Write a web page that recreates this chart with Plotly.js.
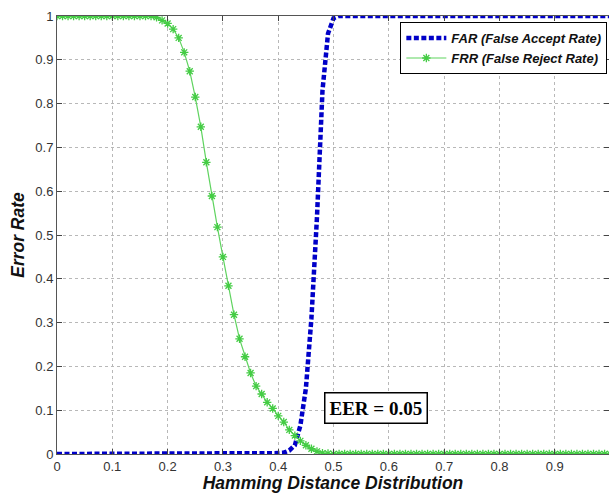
<!DOCTYPE html>
<html>
<head>
<meta charset="utf-8">
<script src="https://cdn.plot.ly/plotly-3.0.1.min.js"></script>
<style>html,body{margin:0;padding:0;background:#fff;}#chart{width:609px;height:493px;}</style>
</head>
<body>
<div id="chart"></div>
<script>
// Hamming distance thresholds (0 to 1, step 0.01)
const hd = [0,0.01,0.02,0.03,0.04,0.05,0.06,0.07,0.08,0.09,0.1,0.11,0.12,0.13,0.14,0.15,0.16,0.17,0.18,0.19,0.2,0.21,0.22,0.23,0.24,0.25,0.26,0.27,0.28,0.29,0.3,0.31,0.32,0.33,0.34,0.35,0.36,0.37,0.38,0.39,0.4,0.41,0.42,0.43,0.44,0.45,0.46,0.47,0.48,0.49,0.5,0.51,0.52,0.53,0.54,0.55,0.56,0.57,0.58,0.59,0.6,0.61,0.62,0.63,0.64,0.65,0.66,0.67,0.68,0.69,0.7,0.71,0.72,0.73,0.74,0.75,0.76,0.77,0.78,0.79,0.8,0.81,0.82,0.83,0.84,0.85,0.86,0.87,0.88,0.89,0.9,0.91,0.92,0.93,0.94,0.95,0.96,0.97,0.98,0.99,1.0];

// False Accept Rate
const far = [0,0,0,0,0,0,0,0,0,0,
             0,0,0,0,0,0,0,0,0,0,
             0,0,0,0,0,0,0,0,0,0,
             0,0,0,0,0,0.002,0.002,0.002,0.002,0.002,
             0.002,0.003,0.008,0.02,0.065,0.15,0.31,0.54,0.83,0.96,
             0.995,1,1,1,1,1,1,1,1,1,
             1,1,1,1,1,1,1,1,1,1,
             1,1,1,1,1,1,1,1,1,1,
             1,1,1,1,1,1,1,1,1,1,
             1,1,1,1,1,1,1,1,1,1,
             1];

// False Reject Rate
const frr = [1,1,1,1,1,1,1,1,1,1,
             1,1,1,1,1,1,1,1,0.997,0.99,
             0.983,0.97,0.95,0.917,0.874,0.815,0.747,0.666,0.589,0.518,
             0.45,0.384,0.318,0.263,0.222,0.185,0.155,0.137,0.118,0.104,
             0.087,0.073,0.055,0.042,0.03,0.02,0.012,0.006,0.002,0.001,
             0,0,0,0,0,0,0,0,0,0,
             0,0,0,0,0,0,0,0,0,0,
             0,0,0,0,0,0,0,0,0,0,
             0,0,0,0,0,0,0,0,0,0,
             0,0,0,0,0,0,0,0,0,0,
             0];

const seriesNames = ["FAR (False Accept Rate)", "FRR (False Reject Rate)"];
const eerText = "EER = 0.05";
const eerPos = [0.577, 0.106];
const xTicks = [0,0.1,0.2,0.3,0.4,0.5,0.6,0.7,0.8,0.9];
const xTickText = ["0","0.1","0.2","0.3","0.4","0.5","0.6","0.7","0.8","0.9"];
const yTicks = [0,0.1,0.2,0.3,0.4,0.5,0.6,0.7,0.8,0.9,1];
const yTickText = ["0","0.1","0.2","0.3","0.4","0.5","0.6","0.7","0.8","0.9","1"];

const traces = [
  {
    x: hd, y: far, name: seriesNames[0], type: "scatter", mode: "lines",
    line: {color: "#0000c8", width: 4.5, dash: "5px,2.5px"}
  },
  {
    x: hd, y: frr, name: seriesNames[1], type: "scatter", mode: "lines+markers",
    line: {color: "#5fd35f", width: 1.2},
    marker: {symbol: "asterisk-open", size: 7, color: "#44cc44", line: {color: "#44cc44", width: 1.3}}
  }
];

const gridStyle = {showgrid: true, gridcolor: "#b8b8b8", griddash: "dot", gridwidth: 1};

const layout = {
  width: 609, height: 493,
  margin: {l: 57, r: 0, t: 16, b: 39},
  paper_bgcolor: "#ffffff",
  plot_bgcolor: "#ffffff",
  font: {family: "Liberation Sans, Arial, sans-serif", color: "#333"},
  showlegend: true,
  legend: {
    x: 0.997, y: 0.986, xanchor: "right", yanchor: "top",
    bgcolor: "#ffffff", bordercolor: "#000000", borderwidth: 1,
    font: {family: "Liberation Sans, Arial, sans-serif", size: 13, color: "#111", style: "italic", weight: "bold"},
    tracegroupgap: 0, itemwidth: 40
  },
  xaxis: Object.assign({
    range: [0, 0.998], tickvals: xTicks, ticktext: xTickText,
    ticks: "inside", ticklen: 5, tickcolor: "#444",
    showline: true, linecolor: "#555", linewidth: 1, mirror: "ticks",
    zeroline: false,
    tickfont: {size: 13, color: "#333"},
    title: {text: "Hamming Distance Distribution", standoff: 2,
            font: {size: 17.5, color: "#111", style: "italic", weight: "bold"}}
  }, gridStyle),
  yaxis: Object.assign({
    range: [0, 1], tickvals: yTicks, ticktext: yTickText,
    ticks: "inside", ticklen: 5, tickcolor: "#444",
    showline: true, linecolor: "#555", linewidth: 1, mirror: "ticks",
    zeroline: false,
    tickfont: {size: 13, color: "#333"},
    title: {text: "Error Rate", standoff: 6,
            font: {size: 17.5, color: "#111", style: "italic", weight: "bold"}}
  }, gridStyle),
  annotations: [{
    x: eerPos[0], y: eerPos[1], xref: "x", yref: "y",
    text: eerText, showarrow: false,
    font: {family: "Liberation Serif, Times New Roman, serif", size: 19, color: "#000", weight: "bold"},
    bgcolor: "#ffffff", bordercolor: "#000000", borderwidth: 1.5, borderpad: 4
  }]
};

Plotly.newPlot("chart", traces, layout, {displayModeBar: false, staticPlot: true});
</script>
</body>
</html>
